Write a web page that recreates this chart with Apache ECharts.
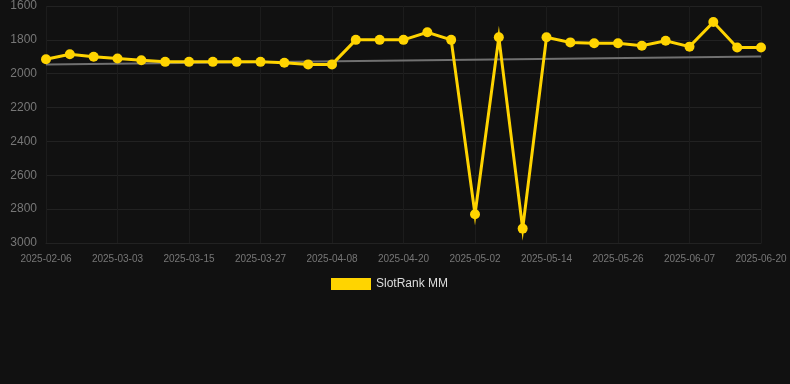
<!DOCTYPE html>
<html>
<head>
<meta charset="utf-8">
<script src="https://cdn.jsdelivr.net/npm/echarts@6/dist/echarts.min.js"></script>
<style>
  html, body { margin: 0; padding: 0; background: #111111; }
  #chart { width: 790px; height: 384px; }
</style>
</head>
<body>
<div id="chart"></div>
<script>
const dates = [
  "2025-02-06", "2025-02-14", "2025-02-22", "2025-03-03", "2025-03-07", "2025-03-11",
  "2025-03-15", "2025-03-19", "2025-03-23", "2025-03-27", "2025-03-31", "2025-04-04",
  "2025-04-08", "2025-04-12", "2025-04-16", "2025-04-20", "2025-04-24", "2025-04-28",
  "2025-05-02", "2025-05-06", "2025-05-10", "2025-05-14", "2025-05-18", "2025-05-22",
  "2025-05-26", "2025-05-30", "2025-06-03", "2025-06-07", "2025-06-11", "2025-06-15",
  "2025-06-20"
];

const rankValues = [
  1915, 1885, 1900, 1910, 1920, 1930,
  1930, 1930, 1930, 1930, 1935, 1945,
  1945, 1800, 1800, 1800, 1755, 1800,
  2830, 1785, 2915, 1785, 1815, 1820,
  1820, 1835, 1805, 1840, 1695, 1845,
  1845
];

// trend line end points (first and last category)
const trendStart = 1946;
const trendEnd = 1898;
const trendValues = dates.map((d, i) =>
  i === 0 ? trendStart : i === dates.length - 1 ? trendEnd : null
);

const yTicks = [1600, 1800, 2000, 2200, 2400, 2600, 2800, 3000];

const chart = echarts.init(document.getElementById("chart"));

const option = {
  backgroundColor: "#111111",
  animation: false,
  grid: { left: 46, right: 29, top: 6, bottom: 141 },
  legend: {
    data: ["SlotRank MM"],
    top: 273,
    left: 326,
    icon: "rect",
    itemWidth: 40,
    itemHeight: 12,
    textStyle: { color: "#dddddd", fontSize: 12, fontFamily: "Liberation Sans, Arial, sans-serif" }
  },
  xAxis: {
    type: "category",
    data: dates,
    boundaryGap: false,
    axisLine: { show: true, lineStyle: { color: "#222222" } },
    axisTick: { show: false },
    axisLabel: {
      interval: 2,
      color: "#777777",
      fontSize: 10,
      margin: 11,
      fontFamily: "Liberation Sans, Arial, sans-serif"
    },
    splitLine: { show: true, interval: 2, lineStyle: { color: "#1c1c1c" } }
  },
  yAxis: {
    type: "value",
    inverse: true,
    min: yTicks[0],
    max: yTicks[yTicks.length - 1],
    interval: 200,
    axisLine: { show: false },
    axisTick: { show: false },
    axisLabel: {
      color: "#777777",
      fontSize: 12,
      margin: 9,
      formatter: (v) => String(v),
      fontFamily: "Liberation Sans, Arial, sans-serif"
    },
    splitLine: { show: true, lineStyle: { color: "#222222" } }
  },
  series: [
    {
      name: "Trend",
      type: "line",
      data: trendValues,
      connectNulls: true,
      symbol: "none",
      lineStyle: { color: "#707070", width: 2 },
      z: 1
    },
    {
      name: "SlotRank MM",
      type: "line",
      data: rankValues,
      symbol: "circle",
      symbolSize: 10,
      color: "#ffd400",
      itemStyle: { color: "#ffd400" },
      lineStyle: { color: "#ffd400", width: 3, join: "miter" },
      z: 3
    }
  ]
};

chart.setOption(option);
</script>
</body>
</html>
